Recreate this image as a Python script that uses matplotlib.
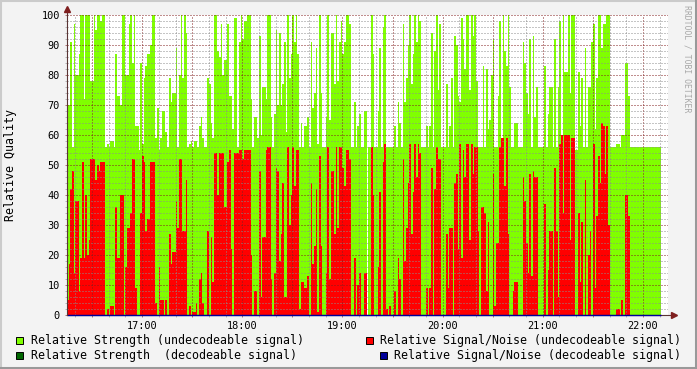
import numpy as np
import matplotlib

matplotlib.use('Agg')

import matplotlib.pyplot as plt
from matplotlib.patches import Rectangle
from matplotlib.ticker import MultipleLocator, FuncFormatter

# --- data: one sample per minute, starting 16:15 ---
start_min = 16 * 60 + 15
step_min = 1

strength_undecodeable = [
    70, 70, 91, 56, 97, 80, 80, 87, 100, 100,
    72, 100, 100, 100, 78, 78, 100, 95, 100, 100,
    98, 100, 100, 56, 57, 56, 58, 58, 56, 87,
    73, 73, 70, 100, 100, 80, 80, 97, 100, 84,
    100, 63, 63, 55, 84, 57, 79, 83, 87, 87,
    90, 100, 100, 59, 69, 55, 59, 68, 68, 61,
    56, 79, 71, 74, 74, 89, 56, 80, 100, 79,
    100, 94, 56, 57, 58, 56, 58, 58, 56, 63,
    66, 59, 56, 56, 79, 77, 64, 59, 100, 100,
    88, 86, 97, 80, 85, 85, 97, 73, 73, 62,
    99, 99, 56, 91, 100, 92, 98, 98, 100, 100,
    72, 56, 66, 66, 59, 93, 60, 76, 76, 72,
    100, 100, 66, 56, 67, 95, 70, 94, 70, 77,
    91, 61, 100, 79, 87, 100, 91, 100, 87, 56,
    64, 56, 63, 63, 66, 56, 91, 69, 74, 89,
    57, 100, 74, 56, 56, 66, 100, 65, 94, 94,
    77, 100, 78, 91, 98, 87, 91, 100, 100, 97,
    56, 56, 71, 56, 63, 67, 56, 56, 68, 68,
    56, 56, 100, 87, 56, 56, 68, 89, 56, 96,
    100, 56, 56, 56, 56, 56, 63, 56, 71, 64,
    56, 97, 71, 79, 90, 100, 77, 87, 100, 91,
    100, 98, 56, 56, 56, 63, 56, 63, 94, 56,
    88, 100, 75, 97, 56, 56, 56, 77, 56, 63,
    79, 56, 93, 90, 73, 71, 99, 92, 82, 100,
    100, 75, 100, 93, 100, 78, 56, 56, 56, 83,
    56, 82, 62, 65, 80, 92, 56, 56, 73, 98,
    56, 100, 88, 83, 100, 76, 56, 56, 64, 64,
    56, 56, 56, 91, 84, 74, 67, 92, 56, 93,
    66, 76, 56, 56, 56, 56, 83, 56, 67, 76,
    76, 56, 92, 56, 76, 98, 59, 100, 81, 81,
    100, 74, 100, 100, 55, 55, 81, 63, 79, 56,
    89, 56, 76, 76, 91, 97, 62, 79, 100, 100,
    89, 97, 97, 100, 100, 56, 56, 56, 56, 57,
    57, 56, 60, 60, 84, 84, 73, 56, 56, 56,
    56, 56, 56, 56, 56, 56, 56, 56, 56, 56,
    56, 56, 56, 56, 56, 56,
]

snr_undecodeable = [
    5, 17, 42, 48, 14, 38, 38, 8, 19, 51,
    19, 40, 20, 25, 52, 52, 52, 45, 50, 48,
    51, 51, 51, 0, 2, 0, 3, 3, 0, 36,
    19, 19, 40, 40, 0, 16, 29, 29, 34, 52,
    52, 9, 0, 0, 34, 53, 51, 28, 32, 32,
    51, 51, 51, 4, 0, 16, 5, 5, 0, 5,
    0, 27, 17, 21, 21, 38, 29, 52, 52, 28,
    28, 45, 0, 3, 0, 1, 1, 4, 0, 12,
    14, 4, 0, 0, 28, 0, 26, 11, 54, 54,
    40, 54, 54, 54, 36, 36, 51, 55, 22, 0,
    54, 54, 54, 55, 55, 52, 55, 55, 55, 55,
    20, 0, 8, 8, 0, 48, 6, 26, 26, 55,
    56, 56, 12, 0, 14, 49, 48, 18, 27, 44,
    6, 6, 56, 30, 40, 56, 43, 55, 55, 2,
    11, 11, 9, 9, 13, 0, 44, 17, 23, 42,
    1, 53, 23, 0, 0, 14, 56, 12, 48, 48,
    27, 56, 29, 56, 56, 49, 43, 55, 55, 52,
    0, 0, 19, 0, 10, 14, 0, 0, 14, 14,
    0, 0, 56, 40, 0, 0, 16, 41, 0, 51,
    57, 2, 0, 3, 0, 0, 8, 0, 19, 12,
    0, 52, 18, 29, 44, 57, 27, 41, 57, 46,
    57, 54, 0, 0, 0, 9, 0, 9, 49, 0,
    42, 56, 52, 52, 0, 0, 0, 27, 9, 29,
    29, 0, 44, 47, 22, 57, 19, 55, 46, 57,
    57, 25, 57, 47, 56, 56, 28, 0, 36, 36,
    34, 8, 31, 0, 0, 47, 3, 24, 24, 56,
    59, 59, 43, 59, 27, 0, 0, 8, 11, 11,
    0, 0, 0, 46, 38, 24, 14, 47, 13, 48,
    46, 46, 0, 0, 0, 0, 37, 0, 15, 28,
    28, 0, 49, 28, 6, 57, 60, 34, 60, 60,
    60, 25, 59, 59, 0, 0, 34, 11, 31, 0,
    45, 0, 20, 28, 0, 57, 9, 33, 53, 44,
    64, 63, 47, 63, 30, 0, 0, 0, 0, 2,
    2, 0, 5, 0, 40, 40, 33, 0, 0, 0,
    0, 0, 0, 0, 0, 0, 0, 0, 0, 0,
    0, 0, 0, 0, 0, 0,
]

legend_labels = [
    "Relative Strength (undecodeable signal)",
    "Relative Strength  (decodeable signal)",
    "Relative Signal/Noise (undecodeable signal)",
    "Relative Signal/Noise (decodeable signal)",
]
legend_colors = ['#80FF00', '#006600', '#FF0000', '#000099']

times = start_min + step_min * np.arange(len(strength_undecodeable))

# --- figure, styled like an rrdtool graph ---
W, H = 697, 369
fig = plt.figure(figsize=(W / 100, H / 100), dpi=100, facecolor='#F3F3F3')
ax = fig.add_axes([67 / W, 1 - 315 / H, 601 / W, 300 / H])
ax.set_facecolor('white')

ax.bar(times, strength_undecodeable, width=step_min, align='edge',
       color='#80FF00', linewidth=0, antialiased=False, zorder=1)
ax.bar(times, snr_undecodeable, width=step_min, align='edge',
       color='#FF0000', linewidth=0, antialiased=False, zorder=1.1)
# decodeable series are zero throughout: they show as a line on the baseline
ax.plot([times[0], times[-1] + step_min], [0, 0], color='#000099', lw=1.0,
        solid_capstyle='butt', clip_on=False, zorder=4)

ax.set_xlim(start_min, start_min + 360)
ax.set_ylim(0, 100)

mono = 'DejaVu Sans Mono'
ax.xaxis.set_major_locator(MultipleLocator(30))
ax.xaxis.set_minor_locator(MultipleLocator(10))
ax.yaxis.set_major_locator(MultipleLocator(10))
ax.yaxis.set_minor_locator(MultipleLocator(2))
ax.xaxis.set_major_formatter(FuncFormatter(
    lambda v, p: f"{int(v) // 60:02d}:00" if int(round(v)) % 60 == 0 else ""))
ax.yaxis.set_major_formatter(FuncFormatter(lambda v, p: f"{int(v)}"))

ax.set_axisbelow(False)
dots = (0, (1, 2))
ax.grid(which='minor', color=(0.55, 0.55, 0.55, 0.35), linestyle=dots, linewidth=0.72)
ax.grid(which='major', color=(0.51, 0.12, 0.12, 0.35), linestyle=dots, linewidth=0.72)

ax.tick_params(which='major', length=1.6, width=0.7, color=(0.51, 0.12, 0.12, 0.6))
ax.tick_params(which='minor', length=1.6, width=0.7, color=(0.55, 0.55, 0.55, 0.6))
ax.tick_params(axis='y', pad=3.5, labelsize=7.4)
ax.tick_params(axis='x', pad=3, labelsize=7.4)
for lab in ax.get_xticklabels() + ax.get_yticklabels():
    lab.set_fontfamily(mono)

for s in ax.spines.values():
    s.set_visible(False)

# axes with arrows
axis_col = '#5A3434'
arrow_col = '#7F1F1F'
ax.plot([0, 0], [0, 1.02], transform=ax.transAxes, color=axis_col, lw=0.8, clip_on=False, zorder=5)
ax.plot([0, 1.01], [0, 0], transform=ax.transAxes, color=axis_col, lw=0.8, clip_on=False, zorder=3)
ax.plot([0], [1.02], marker='^', ms=5, color=arrow_col, transform=ax.transAxes, clip_on=False, zorder=6)
ax.plot([1.01], [0], marker='>', ms=5, color=arrow_col, transform=ax.transAxes, clip_on=False, zorder=6)

fig.text(11 / W, 1 - 165 / H, 'Relative Quality', rotation=90, ha='center', va='center',
         fontsize=8.4, family=mono)
fig.text(687 / W, 1 - 5 / H, 'RRDTOOL / TOBI OETIKER', rotation=270, ha='center', va='top',
         fontsize=5.9, family=mono, color='#A8A8A8')

# legend (rrdtool style boxes)
legend_pos = [(15.5, 340.5, 30.7), (15.5, 355.3, 30.7),
              (365.5, 340.5, 380.3), (379.5, 355.3, 393.7)]
for (bx, cy, tx), lab, col in zip(legend_pos, legend_labels, legend_colors):
    fig.add_artist(Rectangle((bx / W, 1 - (cy + 3.8) / H), 7.5 / W, 7.5 / H,
                             transform=fig.transFigure, facecolor=col,
                             edgecolor='black', linewidth=0.7))
    fig.text(tx / W, 1 - cy / H, lab, ha='left', va='center', fontsize=8.4, family=mono)

# shaded frame
fig.add_artist(plt.Line2D([0, 1], [1 - 1 / H, 1 - 1 / H], transform=fig.transFigure, color='#CBCBCB', lw=1.5))
fig.add_artist(plt.Line2D([1 / W, 1 / W], [0, 1], transform=fig.transFigure, color='#CBCBCB', lw=1.5))
fig.add_artist(plt.Line2D([0, 1], [1.5 / H, 1.5 / H], transform=fig.transFigure, color='#999999', lw=2.2))
fig.add_artist(plt.Line2D([1 - 1.5 / W, 1 - 1.5 / W], [0, 1], transform=fig.transFigure, color='#999999', lw=2.2))

fig.savefig('out.png', dpi=100, facecolor=fig.get_facecolor())
